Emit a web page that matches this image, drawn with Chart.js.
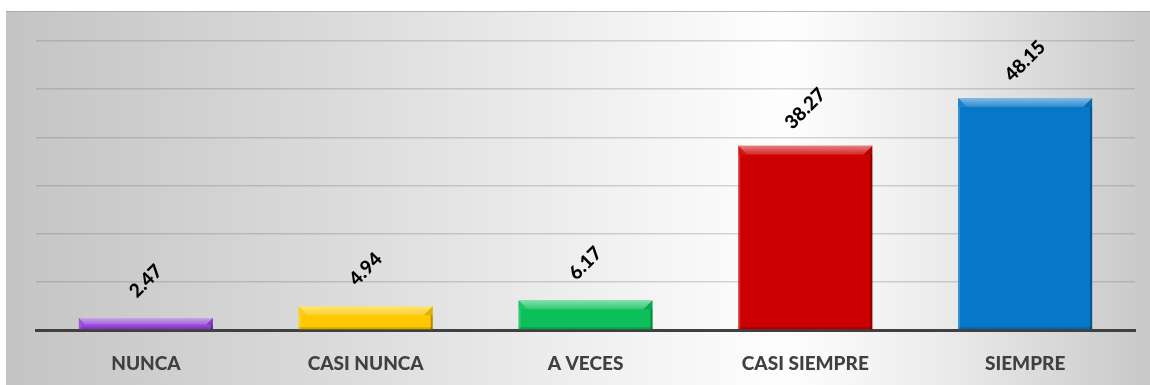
<!DOCTYPE html>
<html>
<head>
<meta charset="utf-8">
<script src="https://cdn.jsdelivr.net/npm/chart.js@4/dist/chart.umd.min.js"></script>
<style>
body { margin: 0; background: #fff; }
</style>
</head>
<body>
<canvas id="frecuencia" width="1150" height="385"></canvas>
<script>
var categorias = ["NUNCA", "CASI NUNCA", "A VECES", "CASI SIEMPRE", "SIEMPRE"];
var porcentajes = [2.47, 4.94, 6.17, 38.27, 48.15];
var colores = ["#9445d6", "#ffc800", "#0cbf5a", "#cc0000", "#0777c8"];
var marcasY = [0, 10, 20, 30, 40, 50, 60];

//
// fondo gris con degradado
//
var fondo = {
    id: "fondo",
    beforeDraw: function (chart) {
        var ctx = chart.ctx;
        ctx.save();
        ctx.fillStyle = "#ffffff";
        ctx.fillRect(0, 0, chart.width, chart.height);
        var g = ctx.createLinearGradient(6, 0, chart.width, 0);
        g.addColorStop(0, "#c4c4c4");
        g.addColorStop(0.28, "#dadada");
        g.addColorStop(0.55, "#f3f3f3");
        g.addColorStop(0.68, "#fefefe");
        g.addColorStop(0.82, "#ebebeb");
        g.addColorStop(1, "#c8c8c8");
        ctx.fillStyle = g;
        ctx.fillRect(6, 11, chart.width - 6, chart.height - 11);
        ctx.fillStyle = "rgba(150,150,150,0.6)";
        ctx.fillRect(6, 11, chart.width - 6, 1);
        ctx.restore();
    }
};

//
// relieve de las barras + etiquetas de valor
//
var relieve = {
    id: "relieve",
    afterDatasetsDraw: function (chart) {
        var ctx = chart.ctx;
        var meta = chart.getDatasetMeta(0);
        ctx.save();
        meta.data.forEach(function (bar, i) {
            var x0 = bar.x - bar.width / 2;
            var x1 = bar.x + bar.width / 2;
            var y0 = bar.y;
            var y1 = bar.base;
            var h = y1 - y0;
            var b = Math.min(9, h * 0.6);

            // banda superior clara
            var g = ctx.createLinearGradient(0, y0, 0, y0 + b);
            g.addColorStop(0, "rgba(255,255,255,0.5)");
            g.addColorStop(1, "rgba(255,255,255,0.15)");
            ctx.fillStyle = g;
            ctx.beginPath();
            ctx.moveTo(x0, y0);
            ctx.lineTo(x1, y0);
            ctx.lineTo(x1 - b, y0 + b);
            ctx.lineTo(x0 + b, y0 + b);
            ctx.closePath();
            ctx.fill();

            // esquinas
            ctx.fillStyle = "rgba(255,255,255,0.08)";
            ctx.beginPath();
            ctx.moveTo(x0, y0);
            ctx.lineTo(x0 + b, y0 + b);
            ctx.lineTo(x0, y0 + b);
            ctx.closePath();
            ctx.fill();
            ctx.fillStyle = "rgba(0,0,0,0.12)";
            ctx.beginPath();
            ctx.moveTo(x1, y0);
            ctx.lineTo(x1 - b, y0 + b);
            ctx.lineTo(x1, y0 + b);
            ctx.closePath();
            ctx.fill();

            // bordes laterales e inferior
            ctx.fillStyle = "rgba(255,255,255,0.18)";
            ctx.fillRect(x0, y0 + b, 2, h - b);
            ctx.fillStyle = "rgba(0,0,0,0.3)";
            ctx.fillRect(x1 - 2, y0 + b, 2, h - b);
            ctx.fillStyle = "rgba(0,0,0,0.15)";
            ctx.fillRect(x0, y1 - 2, bar.width, 2);

            // valor girado
            ctx.save();
            ctx.translate(bar.x, y0 - 37);
            ctx.rotate(-Math.PI / 4);
            ctx.font = "900 19px Lato";
            ctx.fillStyle = "#000000";
            ctx.textAlign = "center";
            ctx.textBaseline = "middle";
            ctx.fillText(porcentajes[i].toFixed(2), 0, 0);
            ctx.restore();
        });
        ctx.restore();
    }
};

var grafico = new Chart("frecuencia", {
    type: "bar",
    data: {
        labels: categorias,
        datasets: [{
            data: porcentajes,
            backgroundColor: colores,
            borderWidth: 0,
            categoryPercentage: 1,
            barPercentage: 0.61
        }]
    },
    options: {
        responsive: false,
        animation: false,
        layout: { padding: { left: 36, right: 15, top: 41, bottom: 0 } },
        plugins: {
            legend: { display: false },
            tooltip: { enabled: false }
        },
        scales: {
            y: {
                min: marcasY[0],
                max: marcasY[marcasY.length - 1],
                afterBuildTicks: function (scale) {
                    scale.ticks = marcasY.map(function (v) { return { value: v }; });
                },
                afterFit: function (scale) { scale.width = 0; },
                ticks: { display: false },
                border: { display: false },
                grid: { color: "rgba(120,120,120,0.3)", lineWidth: 1.5, drawTicks: false }
            },
            x: {
                afterFit: function (scale) { scale.height = 55; },
                grid: { display: false, drawTicks: false },
                border: { display: true, color: "#404040", width: 3 },
                ticks: {
                    padding: 22,
                    color: "#404040",
                    font: { family: "Lato", size: 19, weight: 900 }
                }
            }
        }
    },
    plugins: [fondo, relieve]
});
</script>
</body>
</html>
